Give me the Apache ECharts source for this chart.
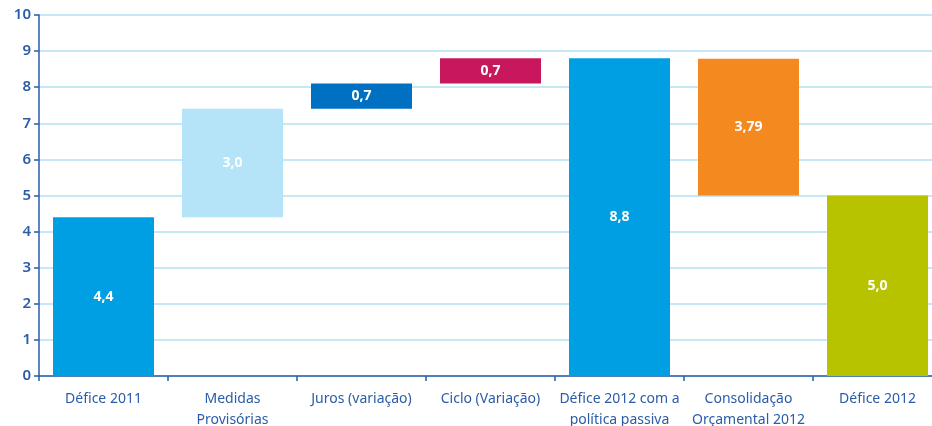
<!DOCTYPE html>
<html>
<head>
<meta charset="utf-8">
<script src="https://cdn.jsdelivr.net/npm/echarts@6/dist/echarts.min.js"></script>
<style>
  html, body { margin: 0; padding: 0; background: #fff; }
  #chart { width: 932px; height: 426px; }
</style>
</head>
<body>
<div id="chart"></div>
<script>
var categories = [
  "Défice 2011",
  "Medidas\nProvisórias",
  "Juros (variação)",
  "Ciclo (Variação)",
  "Défice 2012 com a\npolítica passiva",
  "Consolidação\nOrçamental 2012",
  "Défice 2012"
];
// invisible base of each floating bar
var baseValues = [0, 4.4, 7.4, 8.1, 0, 5.0, 0];
// visible part of each bar
var barValues = [4.4, 3.0, 0.7, 0.7, 8.8, 3.79, 5.0];
var barLabels = ["4,4", "3,0", "0,7", "0,7", "8,8", "3,79", "5,0"];
var barColors = ["#009fe3", "#b5e4f8", "#0070c2", "#c8175d", "#009fe3", "#f4891f", "#b8c300"];
var yTicks = [0, 1, 2, 3, 4, 5, 6, 7, 8, 9, 10];

var axisColor = "#2a5ca8";
var myChart = echarts.init(document.getElementById("chart"));
var option = {
  animation: false,
  grid: { left: 39, top: 15, width: 903, height: 361, outerBoundsMode: "none", containLabel: false },
  xAxis: {
    type: "category",
    data: categories,
    axisLine: { lineStyle: { color: axisColor, width: 1.5 } },
    axisTick: { show: true, length: 5, lineStyle: { color: axisColor, width: 1.5 } },
    axisLabel: {
      interval: 0,
      color: axisColor,
      fontFamily: "Noto Sans",
      fontSize: 14,
      lineHeight: 21,
      margin: 13
    }
  },
  yAxis: {
    type: "value",
    min: yTicks[0],
    max: yTicks[yTicks.length - 1],
    interval: 1,
    axisLine: { show: true, lineStyle: { color: axisColor, width: 1.5 } },
    axisTick: { show: true, length: 5, lineStyle: { color: axisColor, width: 1.5 } },
    axisLabel: {
      color: axisColor,
      fontFamily: "Noto Sans",
      fontWeight: 600,
      fontSize: 15,
      margin: 8
    },
    splitLine: { lineStyle: { color: "#c6e8f6", width: 2 } }
  },
  series: [
    {
      type: "bar",
      stack: "w",
      barWidth: 101,
      itemStyle: { color: "transparent" },
      emphasis: { disabled: true },
      data: baseValues
    },
    {
      type: "bar",
      stack: "w",
      barWidth: 101,
      data: barValues.map(function (v, i) {
        return { value: v, itemStyle: { color: barColors[i] } };
      }),
      label: {
        show: true,
        position: "inside",
        color: "#fff",
        fontFamily: "Noto Sans",
        fontWeight: "bold",
        fontSize: 14,
        formatter: function (p) { return barLabels[p.dataIndex]; }
      }
    }
  ]
};
myChart.setOption(option);
window.addEventListener("resize", function () {
  myChart.resize();
});
</script>
</body>
</html>
